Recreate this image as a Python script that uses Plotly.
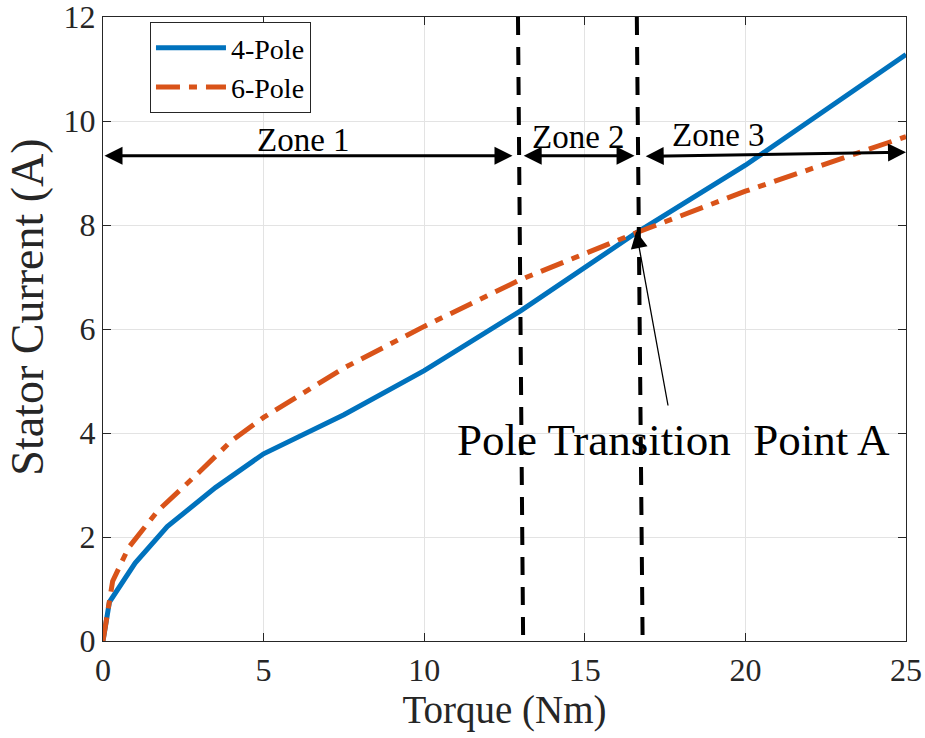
import plotly.graph_objects as go

# ---- data ----
torque_4pole = [0, 0.2, 1.0, 2.0, 3.5, 5.0, 7.5, 10, 13, 16.6, 20, 25]
current_4pole = [0, 0.75, 1.5, 2.2, 2.95, 3.6, 4.35, 5.2, 6.35, 7.85, 9.15, 11.28]

torque_6pole = [0, 0.1, 0.3, 0.8, 1.7, 3.0, 4.0, 5.0, 7.5, 10, 13, 16.6, 20, 25]
current_6pole = [0, 0.4, 1.15, 1.8, 2.5, 3.25, 3.85, 4.3, 5.25, 6.05, 6.95, 7.85, 8.65, 9.7]

x_ticks = [0, 5, 10, 15, 20, 25]
y_ticks = [0, 2, 4, 6, 8, 10, 12]

# zone boundary dashed lines (torque at top, torque at bottom)
boundary_top = [12.92, 16.62]
boundary_bottom = [13.08, 16.80]
boundary_y = [12, 0]

# zone arrows: (start torque, end torque, start y, end y)
zone_names = ["Zone 1", "Zone 2", "Zone 3"]
zone_arrow_x0 = [0.0, 13.05, 16.85]
zone_arrow_x1 = [12.75, 16.55, 25.0]
zone_arrow_y0 = [9.33, 9.33, 9.32]
zone_arrow_y1 = [9.33, 9.33, 9.40]
zone_label_x = [6.25, 14.8, 19.15]
zone_label_y = [9.63, 9.69, 9.74]

point_a = (16.6, 7.88)
point_a_tail = (17.6, 4.5)
point_a_label = "Pole Transition&nbsp;&nbsp;Point A"
point_a_label_pos = (17.75, 3.87)

x_title = "Torque (Nm)"
y_title = "Stator Current (A)"

FONT = "Liberation Serif"
BLUE = "#0072BD"
ORANGE = "#D95319"

fig = go.Figure()
fig.add_trace(go.Scatter(x=torque_4pole, y=current_4pole, mode="lines", name="4-Pole",
                         line=dict(color=BLUE, width=5)))
fig.add_trace(go.Scatter(x=torque_6pole, y=current_6pole, mode="lines", name="6-Pole",
                         line=dict(color=ORANGE, width=5, dash="24px,9px,8px,9px")))
for xt, xb in zip(boundary_top, boundary_bottom):
    fig.add_trace(go.Scatter(x=[xt, xb], y=boundary_y, mode="lines", showlegend=False,
                             line=dict(color="black", width=4, dash="18px,12px"),
                             hoverinfo="skip"))

annotations = []
for name, x0, x1, y0, y1, lx, ly in zip(zone_names, zone_arrow_x0, zone_arrow_x1,
                                         zone_arrow_y0, zone_arrow_y1, zone_label_x, zone_label_y):
    annotations.append(dict(x=x1, y=y1, ax=x0, ay=y0, xref="x", yref="y", axref="x", ayref="y",
                            text="", showarrow=True, arrowhead=2, startarrowhead=2,
                            arrowside="end+start", arrowwidth=3, arrowsize=1.2,
                            startarrowsize=1.2, arrowcolor="black"))
    annotations.append(dict(x=lx, y=ly, xref="x", yref="y", text=name, showarrow=False,
                            font=dict(family=FONT, size=33, color="black")))

annotations.append(dict(x=point_a[0], y=point_a[1], ax=point_a_tail[0], ay=point_a_tail[1],
                        xref="x", yref="y", axref="x", ayref="y", text="", showarrow=True,
                        arrowhead=2, arrowwidth=1.3, arrowsize=2.6, arrowcolor="black"))
annotations.append(dict(x=point_a_label_pos[0], y=point_a_label_pos[1], xref="x", yref="y",
                        text=point_a_label, showarrow=False,
                        font=dict(family=FONT, size=45, color="black")))
# y-axis title (placed as rotated text to match the reference position)
annotations.append(dict(x=-0.094, y=0.535, xref="paper", yref="paper", text=y_title,
                        textangle=-90, showarrow=False, xanchor="center", yanchor="middle",
                        font=dict(family=FONT, size=46, color="#262626")))

axis_common = dict(showline=True, linecolor="#262626", linewidth=1.3, mirror="ticks",
                   ticks="inside", ticklen=8, tickcolor="#262626", tickwidth=1.3,
                   showgrid=True, gridcolor="#e3e3e3", gridwidth=1, zeroline=False,
                   automargin=False, ticklabeloverflow="allow",
                   tickfont=dict(family=FONT, size=32, color="#262626"))

fig.update_layout(
    width=925, height=738,
    margin=dict(l=103, r=19, t=17, b=97),
    paper_bgcolor="white", plot_bgcolor="white",
    font=dict(family=FONT, color="black"),
    xaxis=dict(range=[0, 25], tickvals=x_ticks,
               title=dict(text=x_title, font=dict(family=FONT, size=39, color="#262626"),
                          standoff=8), **axis_common),
    yaxis=dict(range=[0, 12], tickvals=y_ticks, **axis_common),
    legend=dict(x=0.0585, y=0.992, xanchor="left", yanchor="top", bgcolor="white",
                bordercolor="#262626", borderwidth=1, itemwidth=70,
                font=dict(family=FONT, size=28, color="black"), tracegroupgap=0),
    annotations=annotations,
    showlegend=True,
)

fig.write_html("out.html")
